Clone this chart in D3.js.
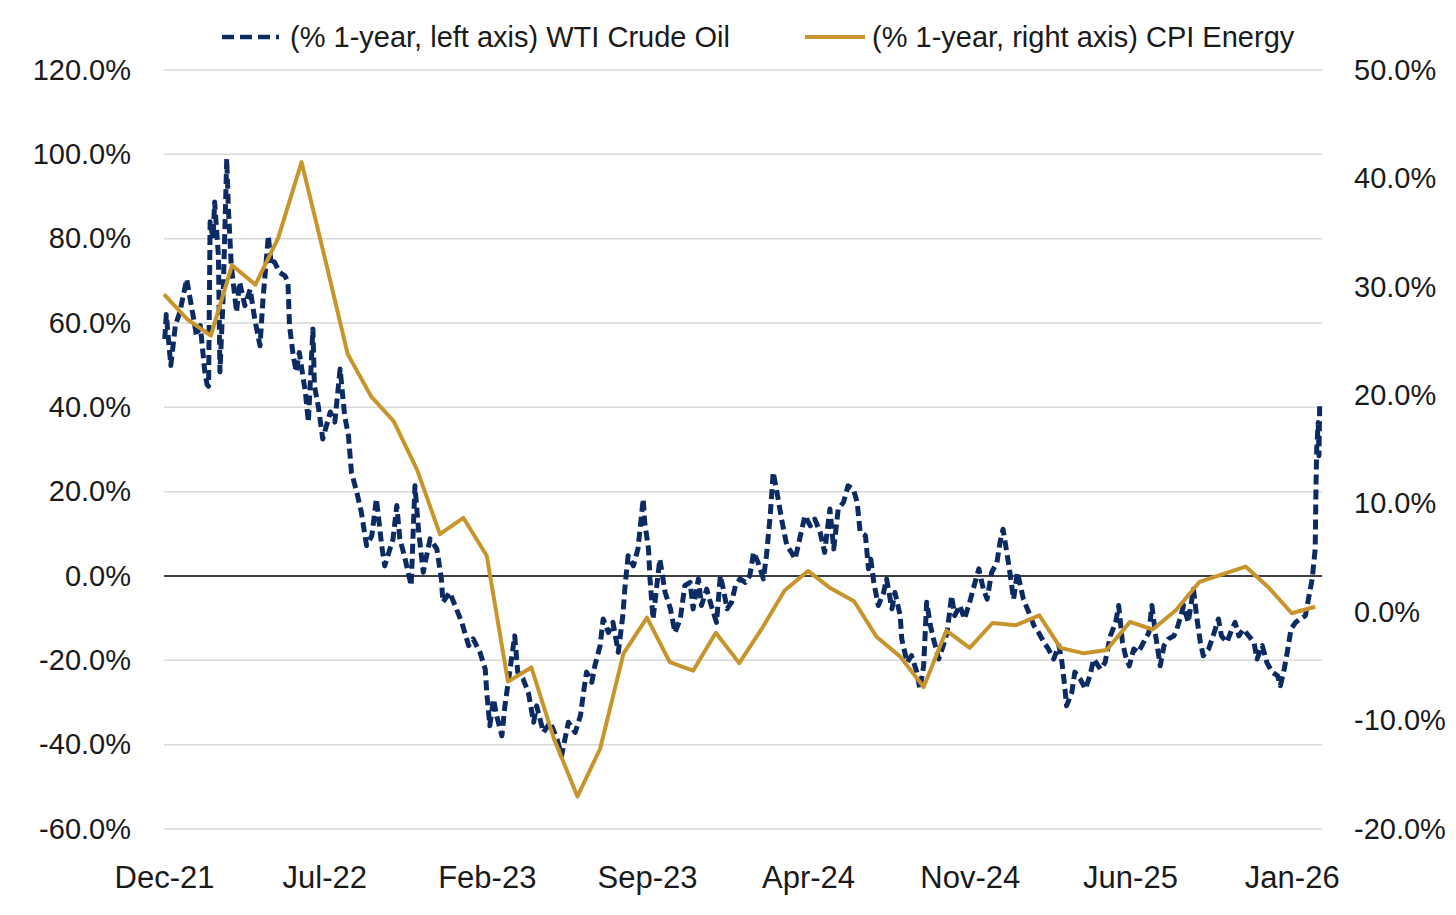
<!DOCTYPE html>
<html>
<head>
<meta charset="utf-8">
<script src="https://cdn.jsdelivr.net/npm/d3@7"></script>
<style>
  body { margin: 0; background: #fff; }
  text { font-family: "Liberation Sans", Arial, sans-serif; }
</style>
</head>
<body>
<svg id="chart" width="1456" height="915"></svg>
<script>
// CPI Energy, % 1-year (right axis), monthly
var cpiMonths = ["2021-12","2022-01","2022-02","2022-03","2022-04","2022-05","2022-06","2022-07","2022-08","2022-09","2022-10","2022-11","2022-12",
  "2023-01","2023-02","2023-03","2023-04","2023-05","2023-06","2023-07","2023-08","2023-09","2023-10","2023-11","2023-12",
  "2024-01","2024-02","2024-03","2024-04","2024-05","2024-06","2024-07","2024-08","2024-09","2024-10","2024-11","2024-12",
  "2025-01","2025-02","2025-03","2025-04","2025-05","2025-06","2025-07","2025-08","2025-09","2025-11","2025-12",
  "2026-01","2026-02"];
var cpiValues = [29.3,27.0,25.5,32.0,30.2,34.5,41.5,32.9,23.8,19.9,17.6,13.1,7.2,
  8.7,5.2,-6.4,-5.1,-11.7,-17.0,-12.6,-3.8,-0.5,-4.6,-5.4,-1.9,
  -4.7,-1.4,2.0,3.8,2.2,1.0,-2.3,-4.1,-6.9,-1.7,-3.3,-1.0,
  -1.2,-0.3,-3.3,-3.8,-3.5,-0.9,-1.6,0.2,2.8,4.2,2.3,
  -0.1,0.5];

// WTI Crude Oil, % 1-year (left axis)
var wtiDates = ["2021-12-02","2021-12-04","2021-12-10","2021-12-16","2021-12-22","2021-12-31",
  "2022-01-07","2022-01-13","2022-01-18","2022-01-24","2022-01-27","2022-01-29","2022-01-31","2022-02-04","2022-02-06","2022-02-11","2022-02-13","2022-02-17","2022-02-22","2022-02-24","2022-02-28",
  "2022-03-07","2022-03-11","2022-03-18","2022-03-25","2022-03-31","2022-04-07","2022-04-11","2022-04-18","2022-04-22","2022-04-26",
  "2022-05-03","2022-05-10","2022-05-14","2022-05-16","2022-05-21","2022-05-25","2022-05-29","2022-06-06","2022-06-10","2022-06-16","2022-06-18","2022-06-23","2022-06-29",
  "2022-07-09","2022-07-15","2022-07-22","2022-07-28","2022-08-02","2022-08-06","2022-08-13","2022-08-19","2022-08-26",
  "2022-09-02","2022-09-08","2022-09-15","2022-09-19","2022-09-30","2022-10-05","2022-10-09","2022-10-15","2022-10-24","2022-10-29",
  "2022-11-03","2022-11-09","2022-11-18","2022-11-27","2022-12-03","2022-12-05","2022-12-14","2022-12-21","2022-12-30",
  "2023-01-08","2023-01-14","2023-01-23","2023-01-30","2023-02-01","2023-02-05","2023-02-10","2023-02-14","2023-02-21","2023-02-25",
  "2023-03-02","2023-03-10","2023-03-14","2023-03-21","2023-03-28","2023-04-04","2023-04-08","2023-04-17","2023-04-26",
  "2023-05-05","2023-05-11","2023-05-20","2023-05-29","2023-06-05","2023-06-09","2023-06-13","2023-06-20","2023-06-24",
  "2023-07-01","2023-07-05","2023-07-12","2023-07-18","2023-07-25","2023-07-31","2023-08-03","2023-08-07","2023-08-14","2023-08-20","2023-08-27","2023-08-29",
  "2023-09-03","2023-09-05","2023-09-09","2023-09-14","2023-09-18","2023-09-25","2023-10-02","2023-10-08","2023-10-15","2023-10-21","2023-10-28",
  "2023-11-01","2023-11-08","2023-11-12","2023-11-19","2023-11-25","2023-12-02","2023-12-07","2023-12-11","2023-12-16","2023-12-22","2023-12-27",
  "2024-01-02","2024-01-09","2024-01-15","2024-01-20","2024-01-26","2024-02-02","2024-02-06","2024-02-11","2024-02-15","2024-02-20","2024-02-26",
  "2024-03-04","2024-03-10","2024-03-15","2024-03-21","2024-03-28","2024-04-04","2024-04-10","2024-04-17","2024-04-23","2024-04-30",
  "2024-05-05","2024-05-11","2024-05-18","2024-05-24","2024-05-31","2024-06-05","2024-06-09","2024-06-16","2024-06-20","2024-06-23","2024-06-27",
  "2024-07-03","2024-07-10","2024-07-14","2024-07-21","2024-07-25","2024-08-01","2024-08-03","2024-08-10","2024-08-16","2024-08-23","2024-08-27",
  "2024-09-01","2024-09-05","2024-09-10","2024-09-14","2024-09-21","2024-09-27","2024-10-02","2024-10-08","2024-10-12","2024-10-19","2024-10-25",
  "2024-11-02","2024-11-08","2024-11-13","2024-11-19","2024-11-24","2024-11-30","2024-12-07","2024-12-11","2024-12-15","2024-12-20","2024-12-24","2024-12-29",
  "2025-01-03","2025-01-07","2025-01-11","2025-01-18","2025-01-25","2025-01-31","2025-02-07","2025-02-13","2025-02-20","2025-02-27",
  "2025-03-03","2025-03-07","2025-03-09","2025-03-16","2025-03-20","2025-03-27","2025-04-03","2025-04-09","2025-04-14","2025-04-20","2025-04-23","2025-04-29",
  "2025-05-06","2025-05-13","2025-05-17","2025-05-22","2025-05-26","2025-05-31","2025-06-06","2025-06-12","2025-06-19","2025-06-26","2025-06-30",
  "2025-07-05","2025-07-11","2025-07-16","2025-07-22","2025-07-29","2025-08-02","2025-08-06","2025-08-11","2025-08-17","2025-08-24","2025-08-28",
  "2025-09-02","2025-09-06","2025-09-13","2025-09-19","2025-09-26","2025-09-30","2025-10-07","2025-10-14","2025-10-18","2025-10-23","2025-10-29",
  "2025-11-05","2025-11-12","2025-11-16","2025-11-23","2025-11-29","2025-12-06","2025-12-13","2025-12-17","2025-12-22","2025-12-26","2025-12-31",
  "2026-01-06","2026-01-12","2026-01-19","2026-01-23","2026-01-28","2026-02-01","2026-02-02","2026-02-03","2026-02-05","2026-02-06","2026-02-07"];
var wtiValues = [56.2,62,49.9,59.4,62.6,70.4,
  63.3,57,59.4,48.4,45.4,45,84,80,88.7,76,48.4,65,98.9,87.8,73.6,
  62.6,69.7,64.1,68,61,54.6,65.7,80.7,73.6,74.5,
  72,71.2,69.7,59.4,52.2,48.4,53,43.6,36.5,58.6,45.1,40.4,32.5,
  38.9,36.5,49.1,38,33.3,24.6,19.9,15.2,7.2,
  9.6,18.3,7.2,2.4,8.8,16.7,8.8,4.8,-2.3,21.4,
  10.4,0.9,8.8,6.4,-0.7,-6.2,-3.9,-7,-11,
  -16.5,-14.9,-18.1,-22.1,-27.6,-35.5,-29.2,-33.1,-37.9,-30.8,
  -24.4,-14.2,-22.8,-24.4,-27.6,-34.7,-30.8,-37.1,-34.7,
  -38.7,-42.6,-34.7,-37.1,-33.1,-27.6,-22.8,-25.2,-21.3,
  -16.5,-10.2,-13.4,-11,-18.1,-9.4,-2.3,4.8,2.4,6.4,18.3,12.7,
  6.4,-0.7,-10.2,-2.3,4,-3.9,-7.8,-13.4,-10.2,-2.3,-1.5,
  -7.8,-0.7,-7,-3.1,-7,-11,0.1,-3.1,-7.8,-6.2,-2.3,
  -0.7,-1.5,0.1,5.6,3.2,-0.7,4.8,14.3,24.6,19.8,13.5,
  7.2,5.6,4,8.8,14.3,11.9,13.5,10.4,5.6,15.9,
  6.4,15.9,17.5,21.4,20.6,17.5,10.4,9.6,1.7,4,-1.5,
  -7,-3.9,-0.7,-7.8,-3.9,-9.4,-14.9,-20.5,-18.9,-22.8,-26.8,
  -21.3,-6.2,-11.8,-14.9,-19.7,-16.5,-13.4,-4.7,-9.4,-7,-10.2,
  -5.5,-1.5,1.7,-3.1,-5.5,0.9,3.2,8,11.1,5.6,0.9,-5.5,
  0.9,-2.3,-5.5,-8.6,-11.8,-13.4,-15.7,-17.3,-19.7,-16.5,
  -20.5,-26.8,-30.8,-27.6,-22.8,-24.4,-26.8,-23.6,-19.7,-21.3,-22.1,-20.5,
  -14.2,-11,-7,-15.7,-18.9,-21.3,-17.3,-18.1,-15.7,-13.4,-7,
  -14.2,-21.3,-16.5,-14.9,-14.2,-12.6,-10.2,-7,-11,-3.1,-9.4,
  -15.7,-18.9,-17.3,-14.2,-10.2,-14.2,-15.7,-12.6,-11,-14.2,-12.6,
  -14.2,-15.7,-19.7,-16.5,-20.5,-22.8,-23.6,-26,-22.1,-18.1,-12.6,
  -11,-10.2,-9.4,-5.5,-0.7,6.4,20.6,30.1,36.4,28.5,41.2];

var xTickMonths = ["2021-12","2022-07","2023-02","2023-09","2024-04","2024-11","2025-06","2026-01"];
var leftTicks = [-60,-40,-20,0,20,40,60,80,100,120];
var rightTicks = [-20,-10,0,10,20,30,40,50];

var navy = "#0d2b63", gold = "#c8952c";
var margin = {left: 164, right: 1322, top: 70, bottom: 829};

var parseDay = d3.timeParse("%Y-%m-%d");
var parseMonth = d3.timeParse("%Y-%m");
var fmtPct = function(d) { return d.toFixed(1) + "%"; };

var wti = wtiDates.map(function(d, i) { return {date: parseDay(d), value: wtiValues[i]}; });
var cpi = cpiMonths.map(function(d, i) { return {date: parseMonth(d), value: cpiValues[i]}; });

var svg = d3.select("#chart");

var x = d3.scaleTime()
  .domain([parseDay("2021-12-01"), parseDay("2026-02-10")])
  .range([margin.left, margin.right]);

var yLeft = d3.scaleLinear().domain([-60, 120]).range([margin.bottom, margin.top]);
var yRight = d3.scaleLinear().domain([-20, 50]).range([margin.bottom, margin.top]);

// gridlines
svg.append("g")
  .selectAll("line")
  .data(leftTicks.filter(function(d) { return d !== 0; }))
  .enter()
  .append("line")
  .attr("x1", margin.left).attr("x2", margin.right)
  .attr("y1", function(d) { return yLeft(d); })
  .attr("y2", function(d) { return yLeft(d); })
  .attr("stroke", "#d9d9d9")
  .attr("stroke-width", 1.5);

svg.append("line")
  .attr("x1", margin.left).attr("x2", margin.right)
  .attr("y1", yLeft(0)).attr("y2", yLeft(0))
  .attr("stroke", "#000")
  .attr("stroke-width", 1.5);

// axes
var leftAxis = svg.append("g")
  .attr("transform", "translate(" + margin.left + ",0)")
  .call(d3.axisLeft(yLeft).tickValues(leftTicks).tickFormat(fmtPct).tickSize(0).tickPadding(33));

var rightAxis = svg.append("g")
  .attr("transform", "translate(" + margin.right + ",0)")
  .call(d3.axisRight(yRight).tickValues(rightTicks).tickFormat(fmtPct).tickSize(0).tickPadding(32));

var xAxis = svg.append("g")
  .attr("transform", "translate(0," + margin.bottom + ")")
  .call(d3.axisBottom(x).tickValues(xTickMonths.map(parseMonth))
    .tickFormat(d3.timeFormat("%b-%y")).tickSize(0).tickPadding(37));

[leftAxis, rightAxis].forEach(function(g) {
  g.select(".domain").remove();
  g.selectAll("text")
    .attr("font-family", "'Liberation Sans', Arial, sans-serif")
    .attr("font-size", 29)
    .attr("fill", "#1a1a1a");
});
xAxis.select(".domain").remove();
xAxis.selectAll("text")
  .attr("font-family", "'Liberation Sans', Arial, sans-serif")
  .attr("font-size", 31)
  .attr("fill", "#1a1a1a");

// series
var wtiLine = d3.line()
  .x(function(d) { return x(d.date); })
  .y(function(d) { return yLeft(d.value); });

var cpiLine = d3.line()
  .x(function(d) { return x(d.date); })
  .y(function(d) { return yRight(d.value); });

svg.append("path")
  .datum(wti)
  .attr("d", wtiLine)
  .attr("fill", "none")
  .attr("stroke", navy)
  .attr("stroke-width", 5)
  .attr("stroke-dasharray", "10,5")
  .attr("stroke-linejoin", "round");

svg.append("path")
  .datum(cpi)
  .attr("d", cpiLine)
  .attr("fill", "none")
  .attr("stroke", gold)
  .attr("stroke-width", 4)
  .attr("stroke-linejoin", "round");

// legend
var legend = svg.append("g").attr("font-size", 29).attr("fill", "#1a1a1a");

legend.append("line")
  .attr("x1", 222).attr("x2", 279).attr("y1", 37).attr("y2", 37)
  .attr("stroke", navy).attr("stroke-width", 4.5).attr("stroke-dasharray", "12,6");
legend.append("text")
  .attr("x", 290).attr("y", 37).attr("dy", "0.35em")
  .text("(% 1-year, left axis) WTI Crude Oil");

legend.append("line")
  .attr("x1", 805).attr("x2", 865).attr("y1", 37).attr("y2", 37)
  .attr("stroke", gold).attr("stroke-width", 4);
legend.append("text")
  .attr("x", 872).attr("y", 37).attr("dy", "0.35em")
  .text("(% 1-year, right axis) CPI Energy");
</script>
</body>
</html>
